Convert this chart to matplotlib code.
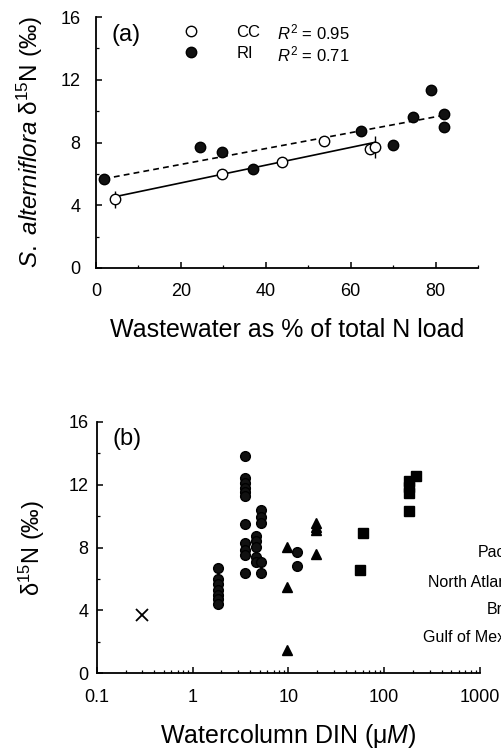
import numpy as np
import matplotlib
matplotlib.use("Agg")
import matplotlib.pyplot as plt
from matplotlib.lines import Line2D
from matplotlib.ticker import MultipleLocator, LogLocator, NullFormatter, FixedLocator, FixedFormatter

plt.rcParams['font.family'] = ['Liberation Sans', 'DejaVu Sans']
plt.rcParams['mathtext.fontset'] = 'custom'
plt.rcParams['mathtext.rm'] = 'Liberation Sans'
plt.rcParams['mathtext.it'] = 'Liberation Sans:italic'

# ---------------- data: panel (a) ----------------
cc_x = [4.5, 29.6, 43.8, 53.6, 64.6, 65.8]
cc_y = [4.38, 5.99, 6.78, 8.11, 7.58, 7.73]
cc_err = [0.55, 0.0, 0.0, 0.0, 0.0, 0.7]
ri_x = [1.9, 24.5, 29.6, 36.9, 62.5, 69.9, 74.8, 78.9, 81.9, 81.9]
ri_y = [5.65, 7.69, 7.37, 6.29, 8.73, 7.84, 9.64, 11.35, 9.8, 9.0]
r2_labels = ["0.95", "0.71"]
series_names = ["CC", "RI"]

# ---------------- data: panel (b) ----------------
circ_x = [1.85]*7 + [3.5]*11 + [4.6]*5 + [5.15]*5 + [12.4]*2
circ_y = [6.7, 6.0, 5.7, 5.3, 5.0, 4.7, 4.4,
          13.8, 12.4, 12.1, 11.8, 11.55, 11.25, 9.5, 8.27, 7.85, 7.5, 6.4,
          8.7, 8.4, 8.05, 7.4, 7.1,
          10.4, 9.95, 9.55, 7.1, 6.4,
          7.7, 6.8]
tri_x = [9.7, 9.7, 9.7, 19.5, 19.5, 19.5, 19.5]
tri_y = [8.05, 5.5, 1.5, 9.55, 9.3, 9.1, 7.6]
sq_x = [55.3, 59.8, 183, 183, 183, 183, 215]
sq_y = [6.55, 8.9, 12.2, 11.85, 11.45, 10.3, 12.55]
x_x = [0.3]
x_y = [3.7]
region_labels = ["Pacific", "North Atlantic", "Brazil", "Gulf of Mexico"]

W, H = 501, 753
fig = plt.figure(figsize=(W/100, H/100), dpi=100)

def setup_axes(ax):
    for s in ['top', 'right']:
        ax.spines[s].set_visible(False)
    for s in ['left', 'bottom']:
        ax.spines[s].set_linewidth(1.3)
    ax.tick_params(which='major', direction='in', length=4, width=1.1, labelsize=13)
    ax.tick_params(which='minor', direction='in', length=2.5, width=0.9)

# ---------------- panel (a) ----------------
ax1 = fig.add_axes([96/W, 1-268/H, 382/W, 251/H])
setup_axes(ax1)
ax1.set_xlim(0, 90)
ax1.set_ylim(0, 16)
ax1.xaxis.set_major_locator(FixedLocator([0, 20, 40, 60, 80]))
ax1.xaxis.set_minor_locator(MultipleLocator(10))
ax1.yaxis.set_major_locator(MultipleLocator(4))
ax1.yaxis.set_minor_locator(MultipleLocator(2))
ax1.tick_params(axis='x', which='major', pad=11)
ax1.tick_params(axis='y', which='major', pad=11)

# regression lines
cx = np.array(cc_x); cy = np.array(cc_y)
rx = np.array(ri_x); ry = np.array(ri_y)
pc = np.polyfit(cx, cy, 1)
pr = np.polyfit(rx, ry, 1)
xs_c = np.array([cx.min(), cx.max()])
xs_r = np.array([rx.min(), rx.max()])
ax1.plot(xs_c, np.polyval(pc, xs_c), color='black', lw=1.2, zorder=2)
ax1.plot(xs_r, np.polyval(pr, xs_r), color='black', lw=1.2, ls=(0, (3.5, 2.5)), zorder=2)

ax1.errorbar(cx, cy, yerr=cc_err, fmt='none', ecolor='black', elinewidth=1.0, capsize=0, zorder=3)
ax1.plot(rx, ry, 'o', ms=7.5, mfc='#111111', mec='black', mew=1.0, zorder=4)
ax1.plot(cx, cy, 'o', ms=7.5, mfc='white', mec='black', mew=1.0, zorder=5)

handles = [Line2D([], [], ls='none', marker='o', ms=7.5, mfc='white', mec='black', mew=1.0),
           Line2D([], [], ls='none', marker='o', ms=7.5, mfc='#111111', mec='black', mew=1.0)]
ax1.legend(handles, series_names, loc='upper left', bbox_to_anchor=(0.228, 0.97),
           frameon=False, fontsize=12, handlelength=1.0, handletextpad=2.2,
           borderpad=0, borderaxespad=0, labelspacing=0.4)
for i, r2 in enumerate(r2_labels):
    ax1.text(0.474, 0.937 - i*0.085, r"$R^2$ = " + r2, transform=ax1.transAxes,
             fontsize=12, va='center', ha='left')
ax1.text(0.04, 0.93, "(a)", transform=ax1.transAxes, fontsize=17, va='center', ha='left')

ax1.set_xlabel("Wastewater as % of total N load", fontsize=18, labelpad=13)
ax1.set_ylabel(r"$\mathit{S.\ alterniflora}$ δ$^{15}$N (‰)", fontsize=17.5, labelpad=11)

# ---------------- panel (b) ----------------
ax2 = fig.add_axes([96.7/W, 1-673.3/H, 383.3/W, 251.6/H])
setup_axes(ax2)
ax2.set_xscale('log')
ax2.set_xlim(0.1, 1000)
ax2.set_ylim(0, 16)
ax2.xaxis.set_major_locator(FixedLocator([0.1, 1, 10, 100, 1000]))
ax2.xaxis.set_major_formatter(FixedFormatter(["0.1", "1", "10", "100", "1000"]))
ax2.xaxis.set_minor_locator(LogLocator(base=10, subs=np.arange(2, 10)))
ax2.xaxis.set_minor_formatter(NullFormatter())
ax2.yaxis.set_major_locator(MultipleLocator(4))
ax2.yaxis.set_minor_locator(MultipleLocator(2))
ax2.tick_params(axis='x', which='major', pad=11)
ax2.tick_params(axis='y', which='major', pad=6)

ax2.plot(circ_x, circ_y, 'o', ms=7, mfc='#111111', mec='black', mew=1.0, ls='none')
ax2.plot(tri_x, tri_y, '^', ms=7.5, mfc='black', mec='black', ls='none')
ax2.plot(sq_x, sq_y, 's', ms=7, mfc='black', mec='black', ls='none')
ax2.plot(x_x, x_y, 'x', ms=8, mec='black', mew=1.3, ls='none')

ax2.text(0.04, 0.93, "(b)", transform=ax2.transAxes, fontsize=17, va='center', ha='left')
ax2.set_xlabel(r"Watercolumn DIN (μ$\mathit{M}$)", fontsize=18, labelpad=12)
ax2.set_ylabel(r"δ$^{15}$N (‰)", fontsize=17, labelpad=15)

label_pos = [(478, 552.5), (427.5, 582.5), (487, 610), (423, 637.5)]
for lab, (px, py) in zip(region_labels, label_pos):
    fig.text(px/W, 1-py/H, lab, fontsize=11.5, ha='left', va='center')

fig.savefig("out.png", dpi=100)
